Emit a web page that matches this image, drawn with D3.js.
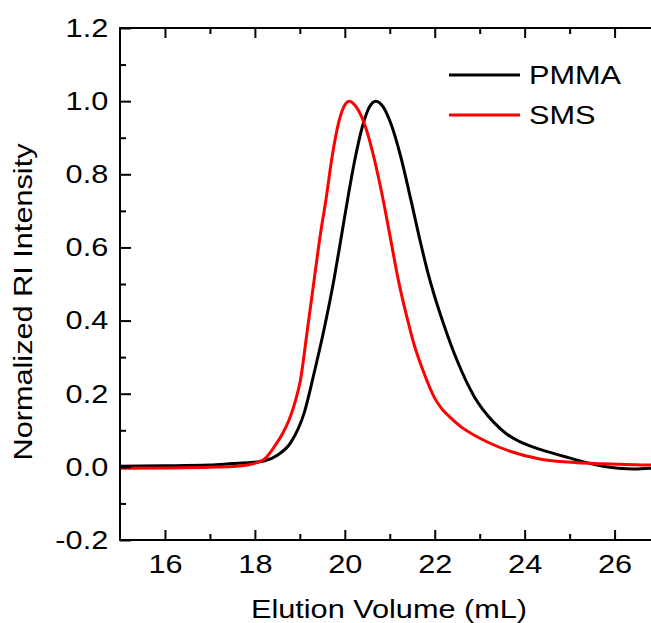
<!DOCTYPE html>
<html>
<head>
<meta charset="utf-8">
<script src="https://cdn.jsdelivr.net/npm/d3@7"></script>
<style>
  body { margin: 0; background: #fff; }
  text { font-family: "Liberation Sans", Arial, sans-serif; fill: #000; }
</style>
</head>
<body>
<div id="chart"></div>
<script>
// data
var seriesNames = ['PMMA', 'SMS'];
var seriesColors = ['#000000', '#ff0000'];

var pmmaX = [15.0, 16.0, 17.0, 17.5, 17.9, 18.2, 18.5, 18.8, 19.1, 19.32, 19.54, 19.76, 19.91, 20.06, 20.24, 20.39, 20.55, 20.69, 20.85, 21.02, 21.24, 21.47, 21.69, 21.85, 22.0, 22.21, 22.5, 22.87, 23.32, 23.6, 23.84, 24.1, 24.36, 24.95, 25.69, 26.43, 26.82];
var pmmaY = [0.002, 0.003, 0.005, 0.009, 0.012, 0.016, 0.032, 0.067, 0.149, 0.258, 0.377, 0.513, 0.62, 0.73, 0.85, 0.93, 0.985, 1.0, 0.985, 0.94, 0.85, 0.73, 0.61, 0.53, 0.465, 0.386, 0.29, 0.194, 0.121, 0.09, 0.072, 0.058, 0.047, 0.026, 0.003, -0.006, -0.004];

var smsX = [15.0, 16.0, 17.0, 17.5, 17.91, 18.21, 18.47, 18.62, 18.76, 18.9, 19.01, 19.17, 19.32, 19.45, 19.58, 19.72, 19.86, 19.98, 20.1, 20.25, 20.43, 20.62, 20.82, 21.0, 21.2, 21.38, 21.54, 21.75, 21.99, 22.15, 22.32, 22.58, 22.9, 23.17, 23.69, 24.36, 25.1, 26.06, 26.82];
var smsY = [-0.004, -0.003, -0.001, 0.001, 0.007, 0.021, 0.062, 0.092, 0.128, 0.18, 0.235, 0.377, 0.513, 0.63, 0.73, 0.85, 0.94, 0.985, 1.0, 0.985, 0.94, 0.86, 0.75, 0.635, 0.505, 0.41, 0.335, 0.26, 0.19, 0.16, 0.138, 0.11, 0.085, 0.068, 0.042, 0.021, 0.012, 0.007, 0.005];

var xMajor = [16, 18, 20, 22, 24, 26];
var xMinor = [17, 19, 21, 23, 25];
var yMajor = [-0.2, 0.0, 0.2, 0.4, 0.6, 0.8, 1.0, 1.2];
var yMinor = [-0.1, 0.1, 0.3, 0.5, 0.7, 0.9, 1.1];

var width = 651, height = 623;
var plotLeft = 120, plotTop = 28, plotBottom = 540;
var stretch = 1.18; // glyphs in the original are wider than Arial

var svg = d3.select('#chart').append('svg')
    .attr('width', width)
    .attr('height', height);

var x = d3.scaleLinear().domain([15, 26.81]).range([plotLeft, width]);
var y = d3.scaleLinear().domain([-0.2, 1.2]).range([plotBottom, plotTop]);

// curves
var line = d3.line()
    .x(function (d) { return x(d[0]); })
    .y(function (d) { return y(d[1]); })
    .curve(d3.curveMonotoneX);

var plot = svg.append('g');
plot.append('path')
    .datum(d3.zip(pmmaX, pmmaY))
    .attr('d', line)
    .attr('fill', 'none')
    .attr('stroke', seriesColors[0])
    .attr('stroke-width', 3);
plot.append('path')
    .datum(d3.zip(smsX, smsY))
    .attr('d', line)
    .attr('fill', 'none')
    .attr('stroke', seriesColors[1])
    .attr('stroke-width', 3);

// axes, ticks point inward
var fmt = function (d) { return d3.format('.1f')(d).replace('\u2212', '-'); };

var bottomAxis = svg.append('g').attr('transform', 'translate(0,' + plotBottom + ')')
    .call(d3.axisBottom(x).tickValues(xMajor).tickSize(-10).tickPadding(15).tickFormat(d3.format('d')));
bottomAxis.append('g')
    .call(d3.axisBottom(x).tickValues(xMinor).tickSize(-6).tickFormat(''));

var topAxis = svg.append('g').attr('transform', 'translate(0,' + plotTop + ')')
    .call(d3.axisTop(x).tickValues(xMajor).tickSize(-10).tickFormat(''));
topAxis.append('g')
    .call(d3.axisTop(x).tickValues(xMinor).tickSize(-6).tickFormat(''));

var leftAxis = svg.append('g').attr('transform', 'translate(' + plotLeft + ',0)')
    .call(d3.axisLeft(y).tickValues(yMajor).tickSize(-11).tickPadding(10).tickFormat(fmt));
leftAxis.append('g')
    .call(d3.axisLeft(y).tickValues(yMinor).tickSize(-6).tickFormat(''));

svg.selectAll('.domain').remove();
svg.selectAll('.tick line').attr('stroke', '#000').attr('stroke-width', 2);
svg.selectAll('.tick text')
    .style('font-size', '26px')
    .attr('font-family', null)
    .attr('transform', 'scale(' + stretch + ',1)');

// frame lines (right side is cut off in the original)
svg.append('line').attr('x1', plotLeft).attr('x2', width).attr('y1', plotTop).attr('y2', plotTop)
    .attr('stroke', '#000').attr('stroke-width', 2);
svg.append('line').attr('x1', plotLeft).attr('x2', width).attr('y1', plotBottom).attr('y2', plotBottom)
    .attr('stroke', '#000').attr('stroke-width', 2);
svg.append('line').attr('x1', plotLeft).attr('x2', plotLeft).attr('y1', plotTop - 1).attr('y2', plotBottom + 1)
    .attr('stroke', '#000').attr('stroke-width', 2);

// axis titles
svg.append('text')
    .attr('transform', 'translate(389,618) scale(' + stretch + ',1)')
    .attr('text-anchor', 'middle')
    .style('font-size', '26px')
    .text('Elution Volume (mL)');

svg.append('text')
    .attr('transform', 'translate(32,302) rotate(-90) scale(' + stretch + ',1)')
    .attr('text-anchor', 'middle')
    .style('font-size', '26px')
    .text('Normalized RI Intensity');

// legend
var legend = svg.append('g').attr('transform', 'translate(449,75)');
seriesNames.forEach(function (name, i) {
    var row = legend.append('g').attr('transform', 'translate(0,' + (i * 40) + ')');
    row.append('line').attr('x1', 0).attr('x2', 71).attr('y1', 0).attr('y2', 0)
        .attr('stroke', seriesColors[i]).attr('stroke-width', 3);
    row.append('text')
        .attr('transform', 'translate(80,9) scale(' + stretch + ',1)')
        .style('font-size', '26px')
        .text(name);
});
</script>
</body>
</html>
